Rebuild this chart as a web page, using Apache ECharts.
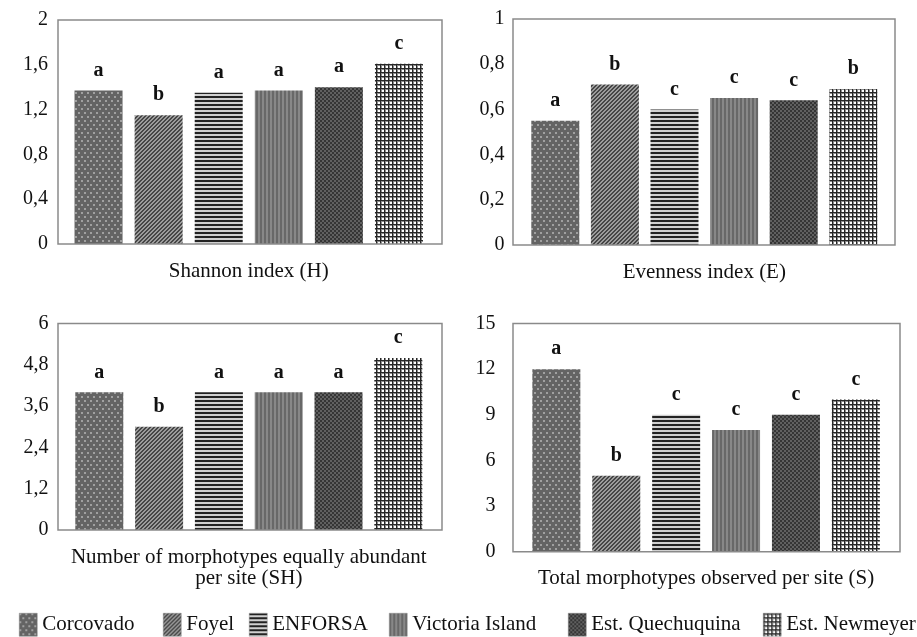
<!DOCTYPE html>
<html>
<head>
<meta charset="utf-8">
<script src="https://cdn.jsdelivr.net/npm/echarts@6/dist/echarts.min.js"></script>
<style>
html,body{margin:0;padding:0;background:#fff;}
#chart{width:917px;height:637px;}
</style>
</head>
<body>
<div id="chart"></div>
<script>
// ---- data ----
const sites = ['Corcovado', 'Foyel', 'ENFORSA', 'Victoria Island', 'Est. Quechuquina', 'Est. Newmeyer'];

const shannon = [1.37, 1.15, 1.35, 1.37, 1.40, 1.61];
const shannonLetters = ['a', 'b', 'a', 'a', 'a', 'c'];
const shannonTicks = [0, 0.4, 0.8, 1.2, 1.6, 2];

const evenness = [0.55, 0.71, 0.60, 0.65, 0.64, 0.69];
const evennessLetters = ['a', 'b', 'c', 'c', 'c', 'b'];
const evennessTicks = [0, 0.2, 0.4, 0.6, 0.8, 1];

const equallyAbundant = [4, 3, 4, 4, 4, 5];
const equallyLetters = ['a', 'b', 'a', 'a', 'a', 'c'];
const equallyTicks = [0, 1.2, 2.4, 3.6, 4.8, 6];

const totalObserved = [12, 5, 9, 8, 9, 10];
const totalLetters = ['a', 'b', 'c', 'c', 'c', 'c'];
const totalTicks = [0, 3, 6, 9, 12, 15];

const panelTitles = ['Shannon index (H)', 'Evenness index (E)',
  'Number of morphotypes equally abundant\nper site (SH)', 'Total morphotypes observed per site (S)'];

// ---- patterns ----
function tile(w, h, fn) {
  const c = document.createElement('canvas');
  c.width = w; c.height = h;
  const ctx = c.getContext('2d');
  for (let y = 0; y < h; y++) for (let x = 0; x < w; x++) {
    ctx.fillStyle = fn(x, y);
    ctx.fillRect(x, y, 1, 1);
  }
  return { image: c, repeat: 'repeat' };
}
const patterns = [
  // dotted
  tile(6, 8, (x, y) => ((x < 2 && y < 2) || (x >= 3 && x < 5 && y >= 4 && y < 6)) ? '#a0a0a0' : '#646464'),
  // diagonal
  tile(4, 4, (x, y) => ((x + y) % 4 < 2) ? '#464646' : '#9c9c9c'),
  // horizontal
  tile(1, 4, (x, y) => y < 2 ? '#222222' : '#d0d0d0'),
  // vertical
  tile(4, 1, (x, y) => x < 2 ? '#686868' : '#888888'),
  // dark checker
  tile(4, 4, (x, y) => (((x >> 1) + (y >> 1)) % 2 === 0) ? '#353535' : '#606060'),
  // grid
  tile(4, 4, (x, y) => (x === 0 || y === 0) ? '#262626' : ((x === 1 || y === 1) ? '#8c8c8c' : '#ffffff'))
];

// ---- layout ----
const panels = [
  { values: shannon, letters: shannonLetters, ticks: shannonTicks, title: panelTitles[0],
    grid: { left: 68.5, top: 20, width: 360.5, height: 224 }, frame: [58, 20, 384, 224], labelMargin: 20.5, nameGap: 17 },
  { values: evenness, letters: evennessLetters, ticks: evennessTicks, title: panelTitles[1],
    grid: { left: 525.5, top: 19, width: 357.6, height: 226 }, frame: [513, 19, 382, 226], labelMargin: 21, nameGap: 17 },
  { values: equallyAbundant, letters: equallyLetters, ticks: equallyTicks, title: panelTitles[2],
    grid: { left: 69.4, top: 323.5, width: 358.8, height: 206.5 }, frame: [58, 323.5, 384, 206.5], labelMargin: 21, nameGap: 17 },
  { values: totalObserved, letters: totalLetters, ticks: totalTicks, title: panelTitles[3],
    grid: { left: 526.4, top: 323.5, width: 359.4, height: 228.2 }, frame: [513, 323.5, 387, 228.2], labelMargin: 31, nameGap: 16 }
];

const FONT = "'Liberation Serif', 'Times New Roman', serif";

const grid = [], xAxis = [], yAxis = [], series = [], graphic = [];
panels.forEach((p, pi) => {
  grid.push(Object.assign({ containLabel: false }, p.grid));
  xAxis.push({
    type: 'category', gridIndex: pi, data: sites,
    axisLine: { show: false }, axisTick: { show: false }, axisLabel: { show: false },
    name: p.title, nameLocation: 'middle', nameGap: p.nameGap,
    nameTextStyle: { fontFamily: FONT, fontSize: 21, color: '#111', lineHeight: 21, verticalAlign: 'top' }
  });
  const t = p.ticks;
  yAxis.push({
    type: 'value', gridIndex: pi, min: t[0], max: t[t.length - 1], interval: t[1] - t[0],
    axisLine: { show: false }, axisTick: { show: false }, splitLine: { show: false },
    axisLabel: {
      margin: p.labelMargin, fontFamily: FONT, fontSize: 20, color: '#111',
      formatter: v => String(Number(v.toFixed(2))).replace('.', ',')
    }
  });
  sites.forEach((s, si) => {
    series.push({
      type: 'bar', name: s, xAxisIndex: pi, yAxisIndex: pi, stack: 'p' + pi, barWidth: 48,
      data: p.values.map((v, j) => j === si ? v : '-'),
      itemStyle: { color: patterns[si] },
      label: {
        show: true, position: 'top', distance: 10,
        fontFamily: FONT, fontSize: 20, fontWeight: 'bold', color: '#111',
        formatter: prm => p.letters[prm.dataIndex]
      },
      emphasis: { disabled: true }
    });
  });
  const f = p.frame;
  graphic.push({
    type: 'rect', silent: true, z: 100,
    shape: { x: f[0], y: f[1], width: f[2], height: f[3] },
    style: { fill: 'none', stroke: '#8a8a8a', lineWidth: 1.5 }
  });
});

const legendLefts = [14, 158, 244, 384, 563, 758];
const legend = sites.map((s, i) => ({
  data: [s], left: legendLefts[i], top: 608, itemWidth: 18, itemHeight: 23, itemGap: 0,
  icon: 'rect', selectedMode: false,
  itemStyle: { borderColor: '#888', borderWidth: 0.5 },
  textStyle: { fontFamily: FONT, fontSize: 21, color: '#111', padding: [3, 0, 0, 0] }
}));

const chart = echarts.init(document.getElementById('chart'), null, { renderer: 'canvas' });
chart.setOption({
  animation: false,
  backgroundColor: '#ffffff',
  grid, xAxis, yAxis, series, legend, graphic
});
</script>
</body>
</html>
